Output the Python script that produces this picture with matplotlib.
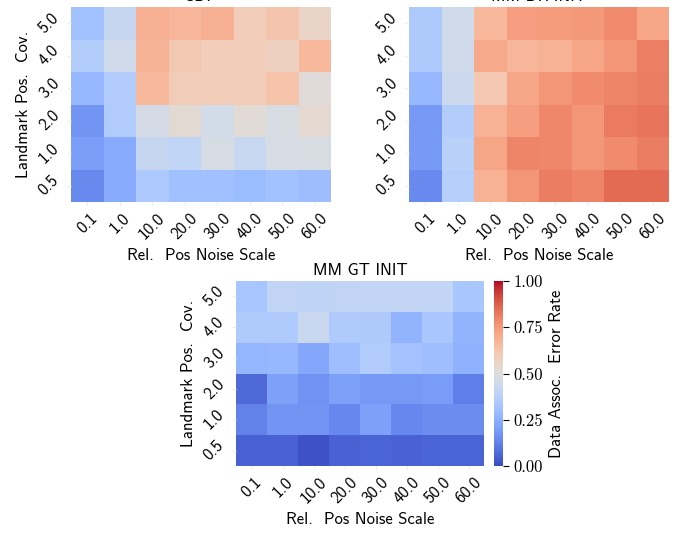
import numpy as np
import matplotlib
matplotlib.use("Agg")
import matplotlib.pyplot as plt
import seaborn as sns

noise_scales = ["0.1", "1.0", "10.0", "20.0", "30.0", "40.0", "50.0", "60.0"]
pos_covs = ["5.0", "4.0", "3.0", "2.0", "1.0", "0.5"]  # top to bottom

# error rates, rows follow pos_covs
sdp_err = [
    [0.31, 0.42, 0.69, 0.675, 0.69, 0.59, 0.625, 0.555],
    [0.36, 0.45, 0.68, 0.61, 0.59, 0.59, 0.575, 0.665],
    [0.28, 0.355, 0.665, 0.595, 0.595, 0.595, 0.63, 0.515],
    [0.175, 0.355, 0.465, 0.525, 0.46, 0.52, 0.48, 0.535],
    [0.20, 0.235, 0.42, 0.40, 0.475, 0.425, 0.475, 0.48],
    [0.145, 0.235, 0.34, 0.305, 0.305, 0.29, 0.31, 0.295],
]
mm_dr_err = [
    [0.345, 0.45, 0.665, 0.74, 0.745, 0.75, 0.785, 0.715],
    [0.345, 0.45, 0.71, 0.675, 0.685, 0.72, 0.755, 0.81],
    [0.28, 0.435, 0.615, 0.72, 0.76, 0.785, 0.80, 0.815],
    [0.185, 0.36, 0.685, 0.735, 0.79, 0.755, 0.82, 0.835],
    [0.19, 0.375, 0.72, 0.80, 0.79, 0.755, 0.785, 0.815],
    [0.145, 0.37, 0.685, 0.76, 0.815, 0.80, 0.855, 0.855],
]
mm_gt_err = [
    [0.325, 0.405, 0.395, 0.405, 0.41, 0.41, 0.41, 0.33],
    [0.35, 0.35, 0.43, 0.35, 0.345, 0.265, 0.33, 0.265],
    [0.27, 0.28, 0.225, 0.30, 0.355, 0.315, 0.30, 0.26],
    [0.07, 0.205, 0.165, 0.205, 0.185, 0.185, 0.195, 0.12],
    [0.125, 0.175, 0.175, 0.14, 0.205, 0.14, 0.155, 0.155],
    [0.05, 0.05, 0.015, 0.05, 0.055, 0.05, 0.055, 0.055],
]

plt.rcParams['font.family'] = ['cmss10', 'DejaVu Sans']
plt.rcParams['axes.formatter.use_mathtext'] = True
plt.rcParams['font.size'] = 12

W, H = 683, 535
fig = plt.figure(figsize=(W / 100, H / 100), dpi=100)

def px_axes(x0, y0, x1, y1):
    return fig.add_axes([x0 / W, 1 - y1 / H, (x1 - x0) / W, (y1 - y0) / H])

ax_sdp = px_axes(71, 7, 331, 202)
ax_dr = px_axes(409, 7, 669, 202)
ax_gt = px_axes(236, 281, 484, 466)
ax_cb = px_axes(494, 281, 503, 466)

panels = [
    (ax_sdp, sdp_err, "SDP", True),
    (ax_dr, mm_dr_err, "MM DR INIT", False),
    (ax_gt, mm_gt_err, "MM GT INIT", True),
]

for ax, data, title, show_ylabel in panels:
    is_gt = ax is ax_gt
    sns.heatmap(np.array(data), ax=ax, cmap="coolwarm", vmin=0, vmax=1,
                xticklabels=noise_scales, yticklabels=pos_covs,
                cbar=is_gt, cbar_ax=ax_cb if is_gt else None)
    ax.set_title(title, fontsize=12, pad=4)
    ax.set_xlabel("Rel.  Pos Noise Scale", fontsize=12)
    if show_ylabel:
        ax.set_ylabel("Landmark Pos.  Cov.", fontsize=12)
    ax.tick_params(length=3, color="#eeeeee", labelsize=12)
    plt.setp(ax.get_xticklabels(), rotation=45, ha="center")
    plt.setp(ax.get_yticklabels(), rotation=45, va="center")

cb = ax_gt.collections[0].colorbar
cb.set_ticks([0.0, 0.25, 0.5, 0.75, 1.0])
cb.set_ticklabels(["0.00", "0.25", "0.50", "0.75", "1.00"])
for t in ax_cb.get_yticklabels():
    t.set_fontfamily("cmr10")
    t.set_fontsize(12)
ax_cb.tick_params(length=4, width=0.8)
cb.outline.set_visible(False)
cb.set_label("Data Assoc.  Error Rate", fontsize=12)

fig.savefig("out.png", dpi=100)
